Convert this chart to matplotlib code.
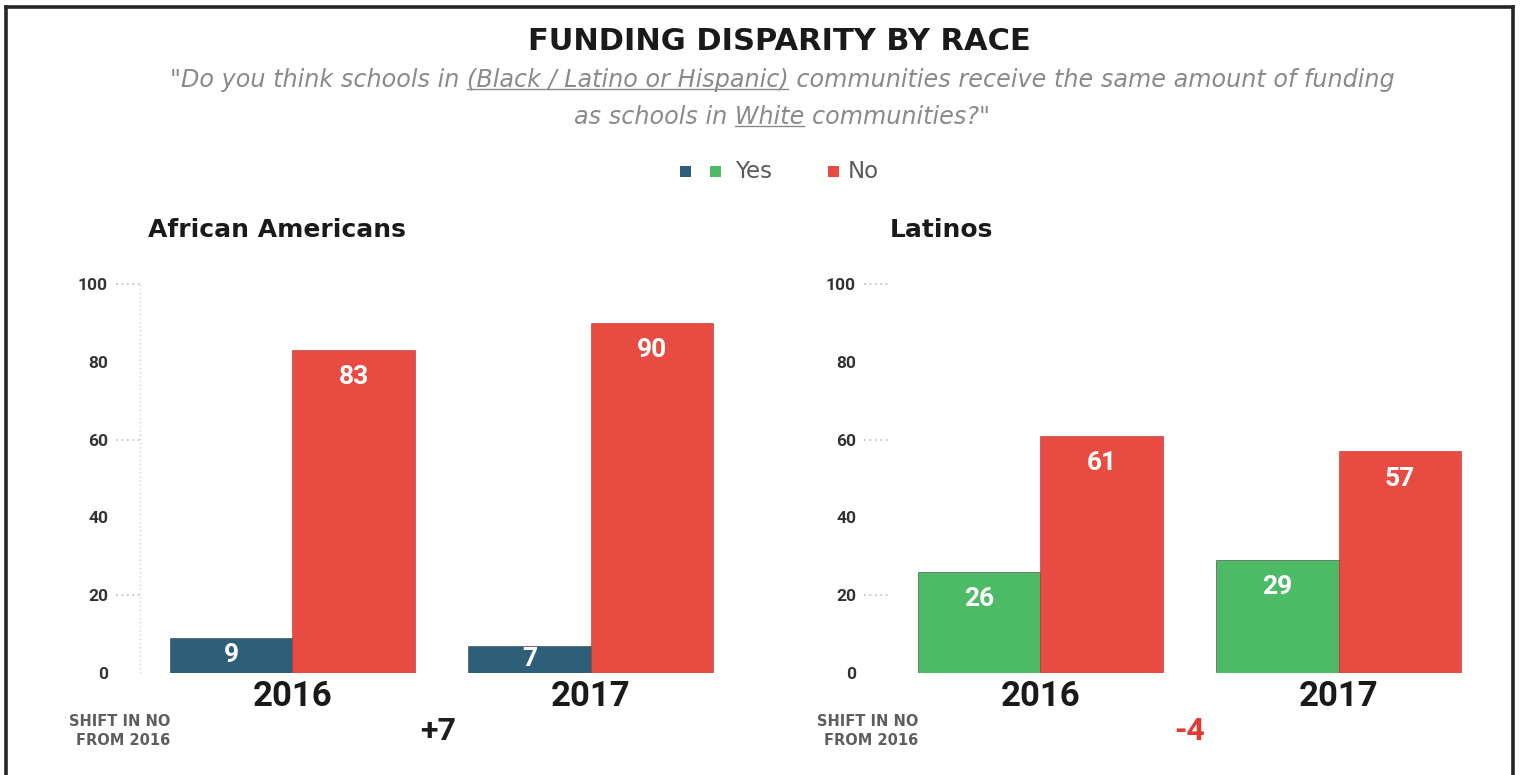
import matplotlib
matplotlib.use("Agg")
import matplotlib.pyplot as plt
from matplotlib.lines import Line2D
from matplotlib.patches import Rectangle
import numpy as np

# ---------------- data ----------------
years = ["2016", "2017"]
aa_yes = [9, 7]
aa_no = [83, 90]
lat_yes = [26, 29]
lat_no = [61, 57]
aa_shift = "+7"
lat_shift = "-4"
yticks = [0, 20, 40, 60, 80, 100]
panel_titles = ["African Americans", "Latinos"]

title = "FUNDING DISPARITY BY RACE"
sub1_pre = "\"Do you think schools in "
sub1_ul = "(Black / Latino or Hispanic)"
sub1_post = " communities receive the same amount of funding"
sub2_pre = "as schools in "
sub2_ul = "White"
sub2_post = " communities?\""

# ---------------- style ----------------
BLUE = "#2d5f78"
GREEN = "#4dba66"
RED = "#e84b42"
DARK = "#1e1e1e"
GRAY = "#8a8a8a"

W, H = 1523, 775
fig = plt.figure(figsize=(W / 100, H / 100), dpi=100)
fig.patch.set_facecolor("white")

def fx(px):
    return px / W

def fy(py):
    return 1 - py / H

# frame (left, top, right)
for xs, ys in [([fx(6), fx(6)], [fy(7), 0]), ([fx(6), fx(1513)], [fy(7), fy(7)]),
               ([fx(1513), fx(1513)], [fy(7), 0])]:
    fig.add_artist(Line2D(xs, ys, color="#262626", lw=2.6, transform=fig.transFigure))

# title
fig.text(fx(779), fy(42), title, ha="center", va="center", fontsize=22,
         fontweight="bold", family="DejaVu Sans", color="#1a1a1a")

# subtitle with underlined parts
sub_font = dict(fontsize=17.2, style="italic", family="DejaVu Sans", color=GRAY)
line1 = sub1_pre + sub1_ul + sub1_post
line2 = sub2_pre + sub2_ul + sub2_post
t1 = fig.text(fx(782), fy(80), line1, ha="center", va="center", **sub_font)
t2 = fig.text(fx(782), fy(117), line2, ha="center", va="center", **sub_font)

fig.canvas.draw()
renderer = fig.canvas.get_renderer()

def text_width(s):
    tt = fig.text(0, 0, s, **sub_font)
    w = tt.get_window_extent(renderer).width
    tt.remove()
    return w

for tobj, pre, ul in [(t1, sub1_pre, sub1_ul), (t2, sub2_pre, sub2_ul)]:
    bb = tobj.get_window_extent(renderer)
    x_start = bb.x0 + text_width(pre)
    x_end = x_start + text_width(ul)
    y_line = bb.y0 + 3
    fig.add_artist(Line2D([x_start / W, x_end / W], [y_line / H, y_line / H],
                          color=GRAY, lw=1.0, transform=fig.transFigure))

# legend
leg_y = 171
sq = 11
for cx, col in [(685, BLUE), (715, GREEN), (833, RED)]:
    fig.add_artist(Rectangle((fx(cx - sq / 2), fy(leg_y + sq / 2)), sq / W, sq / H,
                             facecolor=col, edgecolor="none", transform=fig.transFigure))
fig.text(fx(735), fy(leg_y), "Yes", ha="left", va="center", fontsize=16.5,
         family="DejaVu Sans", color="#5a5a5a")
fig.text(fx(848), fy(leg_y), "No", ha="left", va="center", fontsize=16.5,
         family="DejaVu Sans", color="#5a5a5a")

# ---------------- panels ----------------
ax_w = 600 / W
ax_b = 1 - 673 / H
ax_h = (673 - 284) / H
axes_specs = [
    (140, aa_yes, aa_no, BLUE, panel_titles[0], aa_shift, DARK, True),
    (888, lat_yes, lat_no, GREEN, panel_titles[1], lat_shift, "#e03a33", False),
]
bw = 0.41
x = np.arange(len(years))

for leftpx, yes, no, ycol, ptitle, shift, shift_col, vline in axes_specs:
    ax = fig.add_axes([leftpx / W, ax_b, ax_w, ax_h])
    ax.set_xlim(-0.51, 1.5)
    ax.set_ylim(0, 100)
    for s in ax.spines.values():
        s.set_visible(False)
    if vline:
        ax.axvline(-0.51, color="#c9d3dc", lw=1.0, ls=(0, (1, 2)), zorder=0, clip_on=False)
    ax.set_yticks(yticks)
    ax.set_yticklabels([str(v) for v in yticks], fontsize=12.5, fontweight="bold",
                       family="Roboto", color="#333333")
    ax.tick_params(axis="y", length=0, pad=23)
    ax.set_xticks(x)
    ax.set_xticklabels(years, fontsize=25, fontweight="bold", family="Roboto", color="#1a1a1a")
    ax.tick_params(axis="x", length=0, pad=5)
    # short dotted guides at 20, 60, 100
    for gv in [20, 60, 100]:
        ax.plot([-0.51 - 0.082, -0.51], [gv, gv], color="#b8c8d8", lw=1.3,
                ls=(0, (1, 2)), clip_on=False, zorder=0)

    b1 = ax.bar(x - bw / 2, yes, width=bw, color=ycol, edgecolor="#3a3a3a", linewidth=0.4)
    b2 = ax.bar(x + bw / 2, no, width=bw, color=RED, edgecolor="#b03030", linewidth=0.4)
    for bars, vals in [(b1, yes), (b2, no)]:
        for rect, v in zip(bars, vals):
            ly = max(v - 7, v / 2)
            ax.text(rect.get_x() + rect.get_width() / 2, ly, str(v), ha="center",
                    va="center", fontsize=19, fontweight="bold", family="Roboto",
                    color="white")

    # panel title
    tx = 148 if vline else 890
    fig.text(fx(tx), fy(230), ptitle, ha="left", va="center", fontsize=18,
             fontweight="bold", family="DejaVu Sans", color="#1a1a1a")

    # shift annotation
    sx = 170 if vline else 918
    fig.text(fx(sx), fy(731), "SHIFT IN NO\nFROM 2016", ha="right", va="center",
             fontsize=10.5, fontweight="bold", family="DejaVu Sans", color="#5e5e5e",
             linespacing=1.3)
    shx = 438 if vline else 1190
    fig.text(fx(shx), fy(731), shift, ha="center", va="center", fontsize=23,
             fontweight="bold", family="Roboto", color=shift_col)

fig.savefig("out.png", dpi=100, facecolor="white")
